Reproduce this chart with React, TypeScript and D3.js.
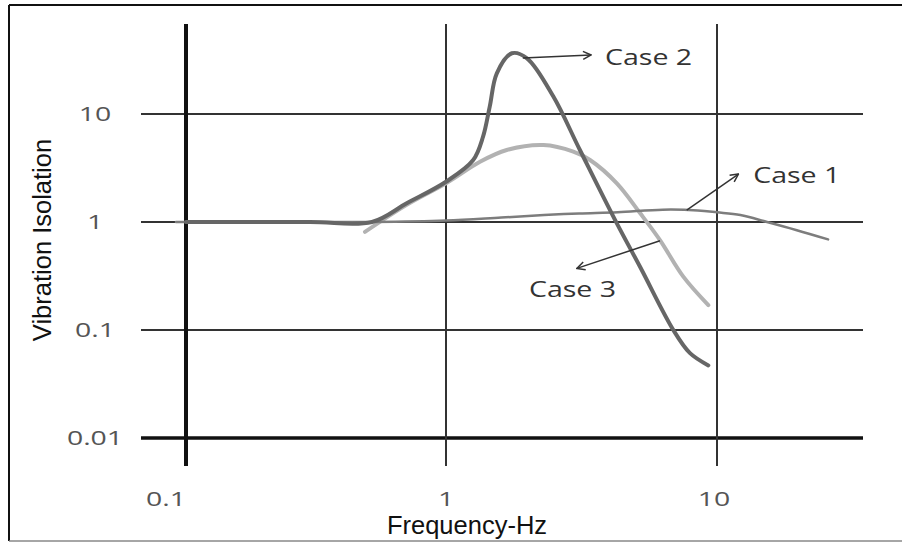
import React from 'react';
import * as d3 from 'd3';

// ---- data ----
const freqTicks = [0.1, 1, 10];
const freqTickLabels = ['0.1', '1', '10'];
const isoTicks = [10, 1, 0.1, 0.01];
const isoTickLabels = ['10', '1', '0.1', '0.01'];

const case1Freq = [0.0915, 0.3, 0.52, 1.0, 1.6, 2.3, 3.1, 4.3, 6.3, 8.5, 10, 12.2, 15.3, 19.7, 25.7];
const case1Iso = [1.0, 1.0, 1.0, 1.03, 1.1, 1.16, 1.2, 1.23, 1.3, 1.28, 1.23, 1.16, 1.0, 0.84, 0.69];

const case2Freq = [0.1, 0.3, 0.519, 0.706, 1.0, 1.26, 1.37, 1.45, 1.54, 1.75, 1.99, 2.49, 3.12, 4.27, 5.2, 6.9, 7.95, 9.29];
const case2Iso = [1, 1, 1.0, 1.49, 2.36, 3.75, 6.17, 11.7, 23.8, 36.5, 32.8, 14.5, 4.64, 0.97, 0.385, 0.1, 0.061, 0.047];

const case3Freq = [0.488, 0.706, 1.0, 1.335, 1.675, 2.29, 2.95, 3.4, 4.27, 5.2, 6.16, 7.51, 9.29];
const case3Iso = [0.81, 1.44, 2.28, 3.61, 4.64, 5.16, 4.48, 3.75, 2.28, 1.21, 0.68, 0.312, 0.17];

const caseNames = ['Case 1', 'Case 2', 'Case 3'];
// annotation arrows in data units: [fromFreq, fromIso, toFreq, toIso, labelFreq, labelIso]
const case1Note = [7.73, 1.29, 12.0, 2.78, 13.6, 2.72];
const case2Note = [1.92, 33, 3.43, 35.2, 3.86, 33.7];
const case3Note = [6.16, 0.671, 3.04, 0.372, 2.93, 0.24];

const xTitle = 'Frequency-Hz';
const yTitle = 'Vibration Isolation';

export default function App() {
  const W = 902;
  const H = 543;
  const x = d3.scaleLog().domain([0.1, 1, 10]).range([186, 446, 717]);
  const y = d3.scaleLog().domain([0.01, 10]).range([438, 114]);

  const line = d3
    .line<[number, number]>()
    .x((d) => x(d[0]))
    .y((d) => y(d[1]))
    .curve(d3.curveCatmullRom.alpha(0.5));

  const zip = (a: number[], b: number[]) => a.map((v, i) => [v, b[i]] as [number, number]);

  const gridLeft = 141;
  const gridRight = 863;
  const vTop = 24;
  const vBottom = 466;

  const tickFont = '"Open Sans", sans-serif';
  const titleFont = '"Liberation Sans", Arial, sans-serif';

  const notes = [
    { name: caseNames[0], n: case1Note, anchor: 'start' },
    { name: caseNames[1], n: case2Note, anchor: 'start' },
    { name: caseNames[2], n: case3Note, anchor: 'middle' },
  ];

  return (
    <svg
      width={W}
      height={H}
      style={{ position: 'absolute', left: 0, top: 0, background: '#fff' }}
    >
      <defs>
        <marker
          id="arr"
          viewBox="0 0 10 10"
          refX="9"
          refY="5"
          markerWidth="10"
          markerHeight="10"
          markerUnits="userSpaceOnUse"
          orient="auto"
        >
          <path d="M1,1 L9,5 L1,9" fill="none" stroke="#333" strokeWidth={1.5} />
        </marker>
      </defs>
      <rect x={0} y={0} width={W} height={H} fill="#fff" />
      {/* frame */}
      <line x1={9} y1={5} x2={W} y2={5} stroke="#111" strokeWidth={2} />
      <line x1={9} y1={5} x2={9} y2={541} stroke="#111" strokeWidth={2} />
      <line x1={9} y1={541} x2={W} y2={541} stroke="#888" strokeWidth={1.5} />

      {/* horizontal grid */}
      {isoTicks.map((t) => (
        <line
          key={'h' + t}
          x1={gridLeft}
          x2={gridRight}
          y1={y(t)}
          y2={y(t)}
          stroke={t === 0.01 ? '#111' : '#333'}
          strokeWidth={t === 0.01 ? 3.5 : 2}
        />
      ))}
      {/* vertical grid */}
      {freqTicks.map((t) => (
        <line
          key={'v' + t}
          x1={x(t)}
          x2={x(t)}
          y1={vTop}
          y2={vBottom}
          stroke={t === 0.1 ? '#111' : '#333'}
          strokeWidth={t === 0.1 ? 4 : 2}
        />
      ))}

      {/* y tick labels */}
      {isoTicks.map((t, i) => (
        <text
          key={'yl' + t}
          transform={`translate(95,${y(t)}) scale(1.42,1)`}
          textAnchor="middle"
          dy="0.36em"
          fontFamily={tickFont}
          fontSize={20}
          fill="#555"
        >
          {isoTickLabels[i]}
        </text>
      ))}
      {/* x tick labels */}
      {freqTicks.map((t, i) => (
        <text
          key={'xl' + t}
          transform={`translate(${x(t) + (i === 0 ? -20 : i === 2 ? -3 : 0)},499) scale(1.42,1)`}
          textAnchor="middle"
          dy="0.36em"
          fontFamily={tickFont}
          fontSize={20}
          fill="#555"
        >
          {freqTickLabels[i]}
        </text>
      ))}

      {/* curves */}
      <path
        d={line(zip(case3Freq, case3Iso)) || ''}
        fill="none"
        stroke="#b2b2b2"
        strokeWidth={4}
        strokeLinecap="round"
      />
      <path
        d={line(zip(case1Freq, case1Iso)) || ''}
        fill="none"
        stroke="#7d7d7d"
        strokeWidth={2.5}
        strokeLinecap="round"
      />
      <path
        d={line(zip(case2Freq, case2Iso)) || ''}
        fill="none"
        stroke="#666"
        strokeWidth={4}
        strokeLinecap="round"
      />

      {/* annotations */}
      {notes.map((o) => (
        <g key={o.name}>
          <line
            x1={x(o.n[0])}
            y1={y(o.n[1])}
            x2={x(o.n[2])}
            y2={y(o.n[3])}
            stroke="#333"
            strokeWidth={1.5}
            markerEnd="url(#arr)"
          />
          <text
            transform={`translate(${x(o.n[4])},${y(o.n[5])}) scale(1.36,1)`}
            textAnchor={o.anchor}
            dy="0.36em"
            fontFamily={tickFont}
            fontSize={21}
            fill="#333"
          >
            {o.name}
          </text>
        </g>
      ))}

      {/* axis titles */}
      <text
        x={467}
        y={534}
        textAnchor="middle"
        fontFamily={titleFont}
        fontSize={25.5}
        fill="#111"
      >
        {xTitle}
      </text>
      <text
        transform={`translate(51,240) rotate(-90)`}
        textAnchor="middle"
        fontFamily={titleFont}
        fontSize={25.5}
        fill="#111"
      >
        {yTitle}
      </text>
    </svg>
  );
}
